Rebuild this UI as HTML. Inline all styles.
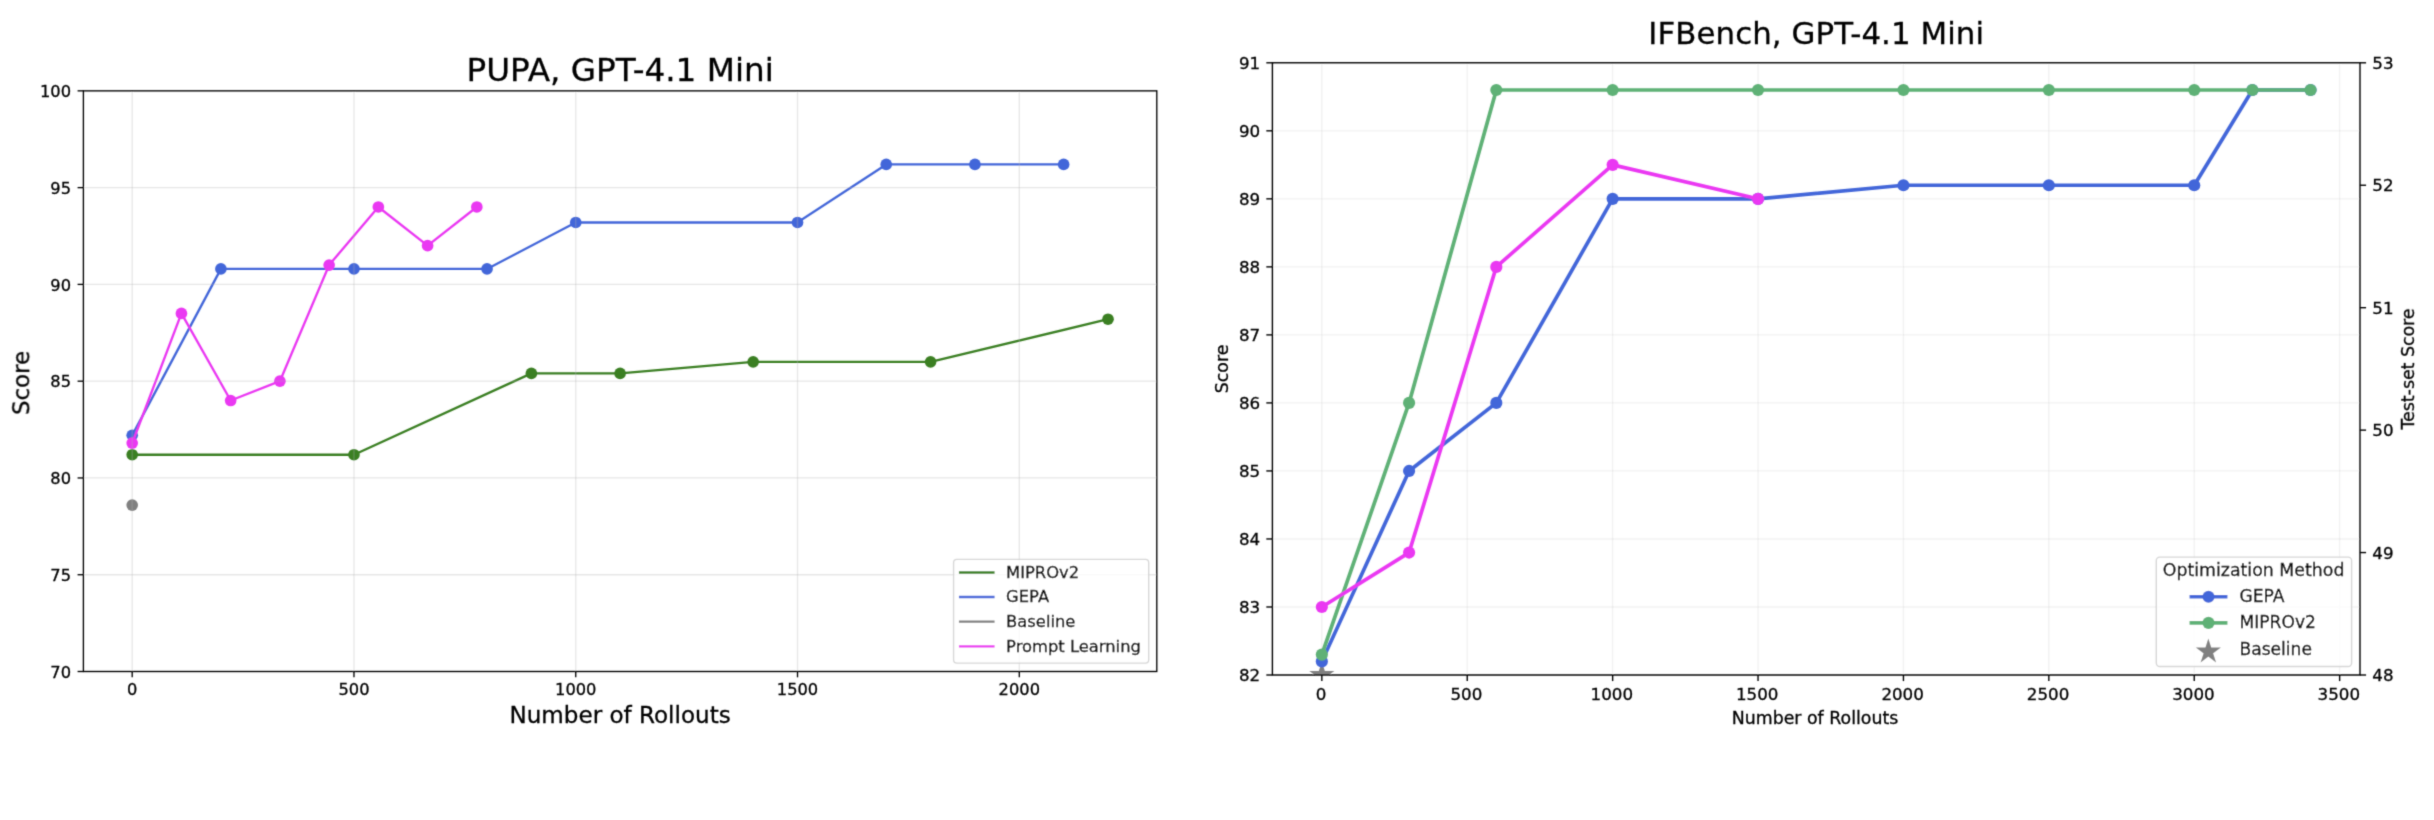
<!DOCTYPE html>
<html lang="en"><head><meta charset="utf-8"><title>Prompt optimization comparison</title>
<style>
html,body{margin:0;padding:0;background:#fff;}
body{width:2434px;height:820px;overflow:hidden;font-family:"DejaVu Sans","Liberation Sans",sans-serif;}
svg{display:block;}
text{fill:#000;stroke:#000;stroke-width:0.3px;}
</style></head><body>
<svg width="2434" height="820" viewBox="0 0 2434 820">
<defs><filter id="soft" filterUnits="userSpaceOnUse" x="0" y="0" width="2434" height="820"><feConvolveMatrix order="3" kernelMatrix="0.02250 0.10500 0.02250 0.10500 0.49000 0.10500 0.02250 0.10500 0.02250" divisor="1" edgeMode="duplicate" preserveAlpha="false"/></filter></defs>
<rect width="2434" height="820" fill="#fff"/>
<g filter="url(#soft)">
<g id="left-chart">
<polyline points="132.19,454.72 353.97,454.72 531.39,373.43 620.10,373.43 753.17,361.82 930.59,361.82 1108.01,319.24" fill="none" stroke="#3a7f24" stroke-width="2.35" stroke-linejoin="round" stroke-linecap="square"/>
<circle cx="132.19" cy="454.72" r="5.83" fill="#3a7f24"/>
<circle cx="353.97" cy="454.72" r="5.83" fill="#3a7f24"/>
<circle cx="531.39" cy="373.43" r="5.83" fill="#3a7f24"/>
<circle cx="620.10" cy="373.43" r="5.83" fill="#3a7f24"/>
<circle cx="753.17" cy="361.82" r="5.83" fill="#3a7f24"/>
<circle cx="930.59" cy="361.82" r="5.83" fill="#3a7f24"/>
<circle cx="1108.01" cy="319.24" r="5.83" fill="#3a7f24"/>
<polyline points="132.19,435.37 220.90,268.92 353.97,268.92 487.03,268.92 575.74,222.46 797.52,222.46 886.23,164.40 974.94,164.40 1063.65,164.40" fill="none" stroke="#4366d9" stroke-width="2.35" stroke-linejoin="round" stroke-linecap="square"/>
<circle cx="132.19" cy="435.37" r="5.83" fill="#4366d9"/>
<circle cx="220.90" cy="268.92" r="5.83" fill="#4366d9"/>
<circle cx="353.97" cy="268.92" r="5.83" fill="#4366d9"/>
<circle cx="487.03" cy="268.92" r="5.83" fill="#4366d9"/>
<circle cx="575.74" cy="222.46" r="5.83" fill="#4366d9"/>
<circle cx="797.52" cy="222.46" r="5.83" fill="#4366d9"/>
<circle cx="886.23" cy="164.40" r="5.83" fill="#4366d9"/>
<circle cx="974.94" cy="164.40" r="5.83" fill="#4366d9"/>
<circle cx="1063.65" cy="164.40" r="5.83" fill="#4366d9"/>
<circle cx="132.19" cy="505.05" r="5.83" fill="#808080"/>
<polyline points="132.19,443.11 181.43,313.43 230.66,400.53 279.89,381.18 329.13,265.05 378.36,206.98 427.60,245.69 476.83,206.98" fill="none" stroke="#ea38f2" stroke-width="2.35" stroke-linejoin="round" stroke-linecap="square"/>
<circle cx="132.19" cy="443.11" r="5.83" fill="#ea38f2"/>
<circle cx="181.43" cy="313.43" r="5.83" fill="#ea38f2"/>
<circle cx="230.66" cy="400.53" r="5.83" fill="#ea38f2"/>
<circle cx="279.89" cy="381.18" r="5.83" fill="#ea38f2"/>
<circle cx="329.13" cy="265.05" r="5.83" fill="#ea38f2"/>
<circle cx="378.36" cy="206.98" r="5.83" fill="#ea38f2"/>
<circle cx="427.60" cy="245.69" r="5.83" fill="#ea38f2"/>
<circle cx="476.83" cy="206.98" r="5.83" fill="#ea38f2"/>
<line x1="132.19" x2="132.19" y1="90.85" y2="671.5" stroke="#b0b0b0" stroke-opacity="0.3" stroke-width="1.333"/>
<line x1="353.97" x2="353.97" y1="90.85" y2="671.5" stroke="#b0b0b0" stroke-opacity="0.3" stroke-width="1.333"/>
<line x1="575.74" x2="575.74" y1="90.85" y2="671.5" stroke="#b0b0b0" stroke-opacity="0.3" stroke-width="1.333"/>
<line x1="797.52" x2="797.52" y1="90.85" y2="671.5" stroke="#b0b0b0" stroke-opacity="0.3" stroke-width="1.333"/>
<line x1="1019.30" x2="1019.30" y1="90.85" y2="671.5" stroke="#b0b0b0" stroke-opacity="0.3" stroke-width="1.333"/>
<line x1="83.4" x2="1156.8" y1="671.50" y2="671.50" stroke="#b0b0b0" stroke-opacity="0.3" stroke-width="1.333"/>
<line x1="83.4" x2="1156.8" y1="574.73" y2="574.73" stroke="#b0b0b0" stroke-opacity="0.3" stroke-width="1.333"/>
<line x1="83.4" x2="1156.8" y1="477.95" y2="477.95" stroke="#b0b0b0" stroke-opacity="0.3" stroke-width="1.333"/>
<line x1="83.4" x2="1156.8" y1="381.18" y2="381.18" stroke="#b0b0b0" stroke-opacity="0.3" stroke-width="1.333"/>
<line x1="83.4" x2="1156.8" y1="284.40" y2="284.40" stroke="#b0b0b0" stroke-opacity="0.3" stroke-width="1.333"/>
<line x1="83.4" x2="1156.8" y1="187.62" y2="187.62" stroke="#b0b0b0" stroke-opacity="0.3" stroke-width="1.333"/>
<line x1="83.4" x2="1156.8" y1="90.85" y2="90.85" stroke="#b0b0b0" stroke-opacity="0.3" stroke-width="1.333"/>
<line x1="132.19" x2="132.19" y1="671.5" y2="677.33" stroke="#000" stroke-width="1.333"/>
<text x="132.19" y="695.2" text-anchor="middle" font-size="16.25" font-family="DejaVu Sans, Liberation Sans, sans-serif">0</text>
<line x1="353.97" x2="353.97" y1="671.5" y2="677.33" stroke="#000" stroke-width="1.333"/>
<text x="353.97" y="695.2" text-anchor="middle" font-size="16.25" font-family="DejaVu Sans, Liberation Sans, sans-serif">500</text>
<line x1="575.74" x2="575.74" y1="671.5" y2="677.33" stroke="#000" stroke-width="1.333"/>
<text x="575.74" y="695.2" text-anchor="middle" font-size="16.25" font-family="DejaVu Sans, Liberation Sans, sans-serif">1000</text>
<line x1="797.52" x2="797.52" y1="671.5" y2="677.33" stroke="#000" stroke-width="1.333"/>
<text x="797.52" y="695.2" text-anchor="middle" font-size="16.25" font-family="DejaVu Sans, Liberation Sans, sans-serif">1500</text>
<line x1="1019.30" x2="1019.30" y1="671.5" y2="677.33" stroke="#000" stroke-width="1.333"/>
<text x="1019.30" y="695.2" text-anchor="middle" font-size="16.25" font-family="DejaVu Sans, Liberation Sans, sans-serif">2000</text>
<line x1="77.57" x2="83.4" y1="671.50" y2="671.50" stroke="#000" stroke-width="1.333"/>
<text x="71.04" y="677.60" text-anchor="end" font-size="16.25" font-family="DejaVu Sans, Liberation Sans, sans-serif">70</text>
<line x1="77.57" x2="83.4" y1="574.73" y2="574.73" stroke="#000" stroke-width="1.333"/>
<text x="71.04" y="580.83" text-anchor="end" font-size="16.25" font-family="DejaVu Sans, Liberation Sans, sans-serif">75</text>
<line x1="77.57" x2="83.4" y1="477.95" y2="477.95" stroke="#000" stroke-width="1.333"/>
<text x="71.04" y="484.05" text-anchor="end" font-size="16.25" font-family="DejaVu Sans, Liberation Sans, sans-serif">80</text>
<line x1="77.57" x2="83.4" y1="381.18" y2="381.18" stroke="#000" stroke-width="1.333"/>
<text x="71.04" y="387.28" text-anchor="end" font-size="16.25" font-family="DejaVu Sans, Liberation Sans, sans-serif">85</text>
<line x1="77.57" x2="83.4" y1="284.40" y2="284.40" stroke="#000" stroke-width="1.333"/>
<text x="71.04" y="290.50" text-anchor="end" font-size="16.25" font-family="DejaVu Sans, Liberation Sans, sans-serif">90</text>
<line x1="77.57" x2="83.4" y1="187.62" y2="187.62" stroke="#000" stroke-width="1.333"/>
<text x="71.04" y="193.72" text-anchor="end" font-size="16.25" font-family="DejaVu Sans, Liberation Sans, sans-serif">95</text>
<line x1="77.57" x2="83.4" y1="90.85" y2="90.85" stroke="#000" stroke-width="1.333"/>
<text x="71.04" y="96.95" text-anchor="end" font-size="16.25" font-family="DejaVu Sans, Liberation Sans, sans-serif">100</text>
<rect x="83.4" y="90.85" width="1073.3999999999999" height="580.65" fill="none" stroke="#000" stroke-width="1.333"/>
<text x="620.10" y="80.5" text-anchor="middle" font-size="32.65" font-family="DejaVu Sans, Liberation Sans, sans-serif">PUPA, GPT-4.1 Mini</text>
<text x="620.10" y="723.1" text-anchor="middle" font-size="23.07" font-family="DejaVu Sans, Liberation Sans, sans-serif">Number of Rollouts</text>
<text transform="translate(29.2,382.93) rotate(-90)" text-anchor="middle" font-size="22.9" font-family="DejaVu Sans, Liberation Sans, sans-serif">Score</text>
<rect x="953.6" y="559.4" width="195.1" height="103.7" rx="3.3" ry="3.3" fill="#fff" fill-opacity="0.8" stroke="#ccc" stroke-opacity="0.8" stroke-width="1.333"/>
<line x1="960.1" x2="993.4" y1="572.5" y2="572.5" stroke="#3a7f24" stroke-width="2.35" stroke-linecap="square"/>
<text x="1006.1" y="577.85" font-size="16.35" font-family="DejaVu Sans, Liberation Sans, sans-serif">MIPROv2</text>
<line x1="960.1" x2="993.4" y1="597.0" y2="597.0" stroke="#4366d9" stroke-width="2.35" stroke-linecap="square"/>
<text x="1006.1" y="602.35" font-size="16.35" font-family="DejaVu Sans, Liberation Sans, sans-serif">GEPA</text>
<line x1="960.1" x2="993.4" y1="621.6" y2="621.6" stroke="#808080" stroke-width="2.35" stroke-linecap="square"/>
<text x="1006.1" y="626.95" font-size="16.35" font-family="DejaVu Sans, Liberation Sans, sans-serif">Baseline</text>
<line x1="960.1" x2="993.4" y1="646.4" y2="646.4" stroke="#ea38f2" stroke-width="2.35" stroke-linecap="square"/>
<text x="1006.1" y="651.75" font-size="16.35" font-family="DejaVu Sans, Liberation Sans, sans-serif">Prompt Learning</text>
</g>
<g id="right-chart">
<clipPath id="clipR"><rect x="1272.4" y="62.8" width="1087.6" height="612.2"/></clipPath>
<line x1="1321.84" x2="1321.84" y1="62.8" y2="675.0" stroke="#b0b0b0" stroke-opacity="0.16" stroke-width="1.389"/>
<line x1="1467.24" x2="1467.24" y1="62.8" y2="675.0" stroke="#b0b0b0" stroke-opacity="0.16" stroke-width="1.389"/>
<line x1="1612.64" x2="1612.64" y1="62.8" y2="675.0" stroke="#b0b0b0" stroke-opacity="0.16" stroke-width="1.389"/>
<line x1="1758.04" x2="1758.04" y1="62.8" y2="675.0" stroke="#b0b0b0" stroke-opacity="0.16" stroke-width="1.389"/>
<line x1="1903.44" x2="1903.44" y1="62.8" y2="675.0" stroke="#b0b0b0" stroke-opacity="0.16" stroke-width="1.389"/>
<line x1="2048.84" x2="2048.84" y1="62.8" y2="675.0" stroke="#b0b0b0" stroke-opacity="0.16" stroke-width="1.389"/>
<line x1="2194.24" x2="2194.24" y1="62.8" y2="675.0" stroke="#b0b0b0" stroke-opacity="0.16" stroke-width="1.389"/>
<line x1="2339.64" x2="2339.64" y1="62.8" y2="675.0" stroke="#b0b0b0" stroke-opacity="0.16" stroke-width="1.389"/>
<line x1="1272.4" x2="2360.0" y1="675.00" y2="675.00" stroke="#b0b0b0" stroke-opacity="0.16" stroke-width="1.389"/>
<line x1="1272.4" x2="2360.0" y1="606.98" y2="606.98" stroke="#b0b0b0" stroke-opacity="0.16" stroke-width="1.389"/>
<line x1="1272.4" x2="2360.0" y1="538.96" y2="538.96" stroke="#b0b0b0" stroke-opacity="0.16" stroke-width="1.389"/>
<line x1="1272.4" x2="2360.0" y1="470.93" y2="470.93" stroke="#b0b0b0" stroke-opacity="0.16" stroke-width="1.389"/>
<line x1="1272.4" x2="2360.0" y1="402.91" y2="402.91" stroke="#b0b0b0" stroke-opacity="0.16" stroke-width="1.389"/>
<line x1="1272.4" x2="2360.0" y1="334.89" y2="334.89" stroke="#b0b0b0" stroke-opacity="0.16" stroke-width="1.389"/>
<line x1="1272.4" x2="2360.0" y1="266.87" y2="266.87" stroke="#b0b0b0" stroke-opacity="0.16" stroke-width="1.389"/>
<line x1="1272.4" x2="2360.0" y1="198.84" y2="198.84" stroke="#b0b0b0" stroke-opacity="0.16" stroke-width="1.389"/>
<line x1="1272.4" x2="2360.0" y1="130.82" y2="130.82" stroke="#b0b0b0" stroke-opacity="0.16" stroke-width="1.389"/>
<line x1="1272.4" x2="2360.0" y1="62.80" y2="62.80" stroke="#b0b0b0" stroke-opacity="0.16" stroke-width="1.389"/>
<polygon points="1321.84,664.60 1319.50,671.79 1311.95,671.79 1318.06,676.23 1315.72,683.41 1321.84,678.97 1327.95,683.41 1325.61,676.23 1331.73,671.79 1324.17,671.79" fill="#808080" stroke="#808080" stroke-width="1.74" stroke-linejoin="miter" stroke-miterlimit="10" clip-path="url(#clipR)"/>
<polyline points="1321.84,661.40 1409.08,470.93 1496.32,402.91 1612.64,198.84 1758.04,198.84 1903.44,185.24 2048.84,185.24 2194.24,185.24 2252.40,90.01 2310.56,90.01" fill="none" stroke="#4366d9" stroke-width="3.7" stroke-linejoin="round" stroke-linecap="square"/>
<circle cx="1321.84" cy="661.40" r="6.08" fill="#4366d9"/>
<circle cx="1409.08" cy="470.93" r="6.08" fill="#4366d9"/>
<circle cx="1496.32" cy="402.91" r="6.08" fill="#4366d9"/>
<circle cx="1612.64" cy="198.84" r="6.08" fill="#4366d9"/>
<circle cx="1758.04" cy="198.84" r="6.08" fill="#4366d9"/>
<circle cx="1903.44" cy="185.24" r="6.08" fill="#4366d9"/>
<circle cx="2048.84" cy="185.24" r="6.08" fill="#4366d9"/>
<circle cx="2194.24" cy="185.24" r="6.08" fill="#4366d9"/>
<circle cx="2252.40" cy="90.01" r="6.08" fill="#4366d9"/>
<circle cx="2310.56" cy="90.01" r="6.08" fill="#4366d9"/>
<polyline points="1321.84,654.59 1409.08,402.91 1496.32,90.01 1612.64,90.01 1758.04,90.01 1903.44,90.01 2048.84,90.01 2194.24,90.01 2252.40,90.01 2310.56,90.01" fill="none" stroke="#5eb176" stroke-width="3.7" stroke-linejoin="round" stroke-linecap="square"/>
<circle cx="1321.84" cy="654.59" r="6.08" fill="#5eb176"/>
<circle cx="1409.08" cy="402.91" r="6.08" fill="#5eb176"/>
<circle cx="1496.32" cy="90.01" r="6.08" fill="#5eb176"/>
<circle cx="1612.64" cy="90.01" r="6.08" fill="#5eb176"/>
<circle cx="1758.04" cy="90.01" r="6.08" fill="#5eb176"/>
<circle cx="1903.44" cy="90.01" r="6.08" fill="#5eb176"/>
<circle cx="2048.84" cy="90.01" r="6.08" fill="#5eb176"/>
<circle cx="2194.24" cy="90.01" r="6.08" fill="#5eb176"/>
<circle cx="2252.40" cy="90.01" r="6.08" fill="#5eb176"/>
<circle cx="2310.56" cy="90.01" r="6.08" fill="#5eb176"/>
<polyline points="1321.84,606.98 1409.08,552.56 1496.32,266.87 1612.64,164.83 1758.04,198.84" fill="none" stroke="#ea38f2" stroke-width="3.7" stroke-linejoin="round" stroke-linecap="square"/>
<circle cx="1321.84" cy="606.98" r="6.08" fill="#ea38f2"/>
<circle cx="1409.08" cy="552.56" r="6.08" fill="#ea38f2"/>
<circle cx="1496.32" cy="266.87" r="6.08" fill="#ea38f2"/>
<circle cx="1612.64" cy="164.83" r="6.08" fill="#ea38f2"/>
<circle cx="1758.04" cy="198.84" r="6.08" fill="#ea38f2"/>
<line x1="1321.84" x2="1321.84" y1="675.0" y2="681.08" stroke="#000" stroke-width="1.389"/>
<text x="1321.04" y="699.6" text-anchor="middle" font-size="16.7" font-family="DejaVu Sans, Liberation Sans, sans-serif">0</text>
<line x1="1467.24" x2="1467.24" y1="675.0" y2="681.08" stroke="#000" stroke-width="1.389"/>
<text x="1466.44" y="699.6" text-anchor="middle" font-size="16.7" font-family="DejaVu Sans, Liberation Sans, sans-serif">500</text>
<line x1="1612.64" x2="1612.64" y1="675.0" y2="681.08" stroke="#000" stroke-width="1.389"/>
<text x="1611.84" y="699.6" text-anchor="middle" font-size="16.7" font-family="DejaVu Sans, Liberation Sans, sans-serif">1000</text>
<line x1="1758.04" x2="1758.04" y1="675.0" y2="681.08" stroke="#000" stroke-width="1.389"/>
<text x="1757.24" y="699.6" text-anchor="middle" font-size="16.7" font-family="DejaVu Sans, Liberation Sans, sans-serif">1500</text>
<line x1="1903.44" x2="1903.44" y1="675.0" y2="681.08" stroke="#000" stroke-width="1.389"/>
<text x="1902.64" y="699.6" text-anchor="middle" font-size="16.7" font-family="DejaVu Sans, Liberation Sans, sans-serif">2000</text>
<line x1="2048.84" x2="2048.84" y1="675.0" y2="681.08" stroke="#000" stroke-width="1.389"/>
<text x="2048.04" y="699.6" text-anchor="middle" font-size="16.7" font-family="DejaVu Sans, Liberation Sans, sans-serif">2500</text>
<line x1="2194.24" x2="2194.24" y1="675.0" y2="681.08" stroke="#000" stroke-width="1.389"/>
<text x="2193.44" y="699.6" text-anchor="middle" font-size="16.7" font-family="DejaVu Sans, Liberation Sans, sans-serif">3000</text>
<line x1="2339.64" x2="2339.64" y1="675.0" y2="681.08" stroke="#000" stroke-width="1.389"/>
<text x="2338.84" y="699.6" text-anchor="middle" font-size="16.7" font-family="DejaVu Sans, Liberation Sans, sans-serif">3500</text>
<line x1="1266.32" x2="1272.4" y1="675.00" y2="675.00" stroke="#000" stroke-width="1.389"/>
<text x="1260.24" y="681.20" text-anchor="end" font-size="16.7" font-family="DejaVu Sans, Liberation Sans, sans-serif">82</text>
<line x1="1266.32" x2="1272.4" y1="606.98" y2="606.98" stroke="#000" stroke-width="1.389"/>
<text x="1260.24" y="613.18" text-anchor="end" font-size="16.7" font-family="DejaVu Sans, Liberation Sans, sans-serif">83</text>
<line x1="1266.32" x2="1272.4" y1="538.96" y2="538.96" stroke="#000" stroke-width="1.389"/>
<text x="1260.24" y="545.16" text-anchor="end" font-size="16.7" font-family="DejaVu Sans, Liberation Sans, sans-serif">84</text>
<line x1="1266.32" x2="1272.4" y1="470.93" y2="470.93" stroke="#000" stroke-width="1.389"/>
<text x="1260.24" y="477.13" text-anchor="end" font-size="16.7" font-family="DejaVu Sans, Liberation Sans, sans-serif">85</text>
<line x1="1266.32" x2="1272.4" y1="402.91" y2="402.91" stroke="#000" stroke-width="1.389"/>
<text x="1260.24" y="409.11" text-anchor="end" font-size="16.7" font-family="DejaVu Sans, Liberation Sans, sans-serif">86</text>
<line x1="1266.32" x2="1272.4" y1="334.89" y2="334.89" stroke="#000" stroke-width="1.389"/>
<text x="1260.24" y="341.09" text-anchor="end" font-size="16.7" font-family="DejaVu Sans, Liberation Sans, sans-serif">87</text>
<line x1="1266.32" x2="1272.4" y1="266.87" y2="266.87" stroke="#000" stroke-width="1.389"/>
<text x="1260.24" y="273.07" text-anchor="end" font-size="16.7" font-family="DejaVu Sans, Liberation Sans, sans-serif">88</text>
<line x1="1266.32" x2="1272.4" y1="198.84" y2="198.84" stroke="#000" stroke-width="1.389"/>
<text x="1260.24" y="205.04" text-anchor="end" font-size="16.7" font-family="DejaVu Sans, Liberation Sans, sans-serif">89</text>
<line x1="1266.32" x2="1272.4" y1="130.82" y2="130.82" stroke="#000" stroke-width="1.389"/>
<text x="1260.24" y="137.02" text-anchor="end" font-size="16.7" font-family="DejaVu Sans, Liberation Sans, sans-serif">90</text>
<line x1="1266.32" x2="1272.4" y1="62.80" y2="62.80" stroke="#000" stroke-width="1.389"/>
<text x="1260.24" y="69.00" text-anchor="end" font-size="16.7" font-family="DejaVu Sans, Liberation Sans, sans-serif">91</text>
<line x1="2360.0" x2="2366.08" y1="675.00" y2="675.00" stroke="#000" stroke-width="1.389"/>
<text x="2372.36" y="681.20" text-anchor="start" font-size="16.7" font-family="DejaVu Sans, Liberation Sans, sans-serif">48</text>
<line x1="2360.0" x2="2366.08" y1="552.56" y2="552.56" stroke="#000" stroke-width="1.389"/>
<text x="2372.36" y="558.76" text-anchor="start" font-size="16.7" font-family="DejaVu Sans, Liberation Sans, sans-serif">49</text>
<line x1="2360.0" x2="2366.08" y1="430.12" y2="430.12" stroke="#000" stroke-width="1.389"/>
<text x="2372.36" y="436.32" text-anchor="start" font-size="16.7" font-family="DejaVu Sans, Liberation Sans, sans-serif">50</text>
<line x1="2360.0" x2="2366.08" y1="307.68" y2="307.68" stroke="#000" stroke-width="1.389"/>
<text x="2372.36" y="313.88" text-anchor="start" font-size="16.7" font-family="DejaVu Sans, Liberation Sans, sans-serif">51</text>
<line x1="2360.0" x2="2366.08" y1="185.24" y2="185.24" stroke="#000" stroke-width="1.389"/>
<text x="2372.36" y="191.44" text-anchor="start" font-size="16.7" font-family="DejaVu Sans, Liberation Sans, sans-serif">52</text>
<line x1="2360.0" x2="2366.08" y1="62.80" y2="62.80" stroke="#000" stroke-width="1.389"/>
<text x="2372.36" y="69.00" text-anchor="start" font-size="16.7" font-family="DejaVu Sans, Liberation Sans, sans-serif">53</text>
<rect x="1272.4" y="62.8" width="1087.6" height="612.2" fill="none" stroke="#000" stroke-width="1.389"/>
<text x="1816.20" y="44.2" text-anchor="middle" font-size="30.85" letter-spacing="0.06" font-family="DejaVu Sans, Liberation Sans, sans-serif">IFBench, GPT-4.1 Mini</text>
<text x="1815.00" y="723.5" text-anchor="middle" font-size="17.36" font-family="DejaVu Sans, Liberation Sans, sans-serif">Number of Rollouts</text>
<text transform="translate(1227.5,368.90) rotate(-90)" text-anchor="middle" font-size="17.36" font-family="DejaVu Sans, Liberation Sans, sans-serif">Score</text>
<text transform="translate(2414,368.90) rotate(-90)" text-anchor="middle" font-size="17.36" font-family="DejaVu Sans, Liberation Sans, sans-serif">Test-set Score</text>
<rect x="2156.3" y="557.1" width="195.3" height="109.4" rx="3.5" ry="3.5" fill="#fff" fill-opacity="0.8" stroke="#ccc" stroke-opacity="0.8" stroke-width="1.389"/>
<text x="2253.6" y="576.1" text-anchor="middle" font-size="17.36" font-family="DejaVu Sans, Liberation Sans, sans-serif">Optimization Method</text>
<line x1="2191.4" x2="2225.6" y1="596.75" y2="596.75" stroke="#4366d9" stroke-width="3.7" stroke-linecap="square"/>
<circle cx="2208.5" cy="596.75" r="6.08" fill="#4366d9"/>
<text x="2239.5" y="602.30" font-size="17.1" font-family="DejaVu Sans, Liberation Sans, sans-serif">GEPA</text>
<line x1="2191.4" x2="2225.6" y1="622.9" y2="622.9" stroke="#5eb176" stroke-width="3.7" stroke-linecap="square"/>
<circle cx="2208.5" cy="622.9" r="6.08" fill="#5eb176"/>
<text x="2239.5" y="628.45" font-size="17.1" font-family="DejaVu Sans, Liberation Sans, sans-serif">MIPROv2</text>
<polygon points="2208.35,641.30 2206.02,648.49 2198.46,648.49 2204.57,652.93 2202.24,660.11 2208.35,655.67 2214.46,660.11 2212.13,652.93 2218.24,648.49 2210.68,648.49" fill="#808080" stroke="#808080" stroke-width="1.74" stroke-linejoin="miter" stroke-miterlimit="10"/>
<text x="2239.5" y="654.6" font-size="17.1" font-family="DejaVu Sans, Liberation Sans, sans-serif">Baseline</text>
</g>
</g>
</svg>
</body></html>
